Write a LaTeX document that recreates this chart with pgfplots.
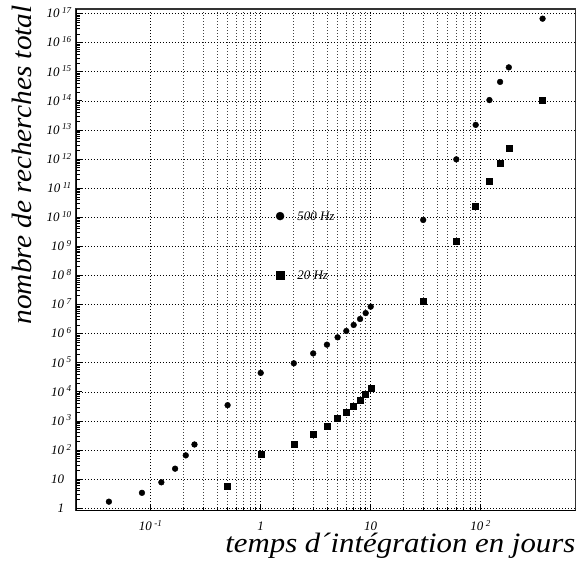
\documentclass[border=0pt]{standalone}
\usepackage{fontspec}
\setmainfont{Liberation Serif}
\newfontfamily\xlabfont[FakeStretch=1.1]{Liberation Serif}
\newfontfamily\ylabfont[FakeStretch=1.05]{Liberation Serif}
\usepackage{pgfplots}
\pgfplotsset{compat=1.18}

% exponent label with a small gap, as on the original
\newcommand\ee[1]{10\hspace{2.5pt}\textsuperscript{#1}}
\newcommand\noexp{\hphantom{\hspace{2.5pt}\textsuperscript{0}}}

\begin{document}
\begin{tikzpicture}
\begin{axis}[
    xmode=log, ymode=log,
    scale only axis,
    width=499.5pt, height=501.7pt,
    xmin=0.02094, xmax=727,
    ymin=0.827, ymax=1.44e17,
    axis line style={black!80, line width=1.1pt},
    xtick={0.1,1,10,100},
    xticklabels={\ee{-1},1,10,\ee{2}},
    ytick={1,10,1e2,1e3,1e4,1e5,1e6,1e7,1e8,1e9,1e10,1e11,1e12,1e13,1e14,1e15,1e16,1e17},
    yticklabels={1\noexp,10\noexp,\ee{2},\ee{3},\ee{4},\ee{5},\ee{6},\ee{7},\ee{8},
      \ee{9},\ee{10},\ee{11},\ee{12},\ee{13},\ee{14},\ee{15},\ee{16},\ee{17}},
    xtick pos=lower, ytick pos=left,
    tick align=inside,
    major tick length=6pt, minor tick length=4pt,
    tick style={black, line width=0.8pt},
    xmajorgrids, xminorgrids, ymajorgrids,
    major grid style={black, line width=0.7pt, dash pattern=on 0.9pt off 2.1pt},
    minor grid style={black!75, line width=0.7pt, dash pattern=on 0.9pt off 2.1pt},
    tick label style={font=\itshape\fontsize{13}{15}\selectfont},
    xticklabel style={anchor=base, inner sep=0pt, text depth=0pt, yshift=-20.3pt},
    yticklabel style={anchor=base east, inner sep=0pt, xshift=-4pt, yshift=-4.3pt},
]
% 500 Hz
\addplot[only marks, mark=*, mark size=2.9pt, black] coordinates {
  (0.0417,1.69) (0.0833,3.4) (0.125,7.8) (0.1667,23) (0.2083,66) (0.25,156)
  (0.5,3500) (1,4.5e4) (2,9.6e4) (3,2.1e5) (4,4.2e5) (5,7.5e5) (6,1.24e6)
  (7,2.0e6) (8,3.2e6) (9,5.1e6) (10,8.5e6) (30,8.1e9) (60,9.8e11)
  (90,1.5e13) (120,1.07e14) (150,4.5e14) (180,1.42e15) (365,6.7e16)
};
% 20 Hz
\addplot[only marks, mark=square*, mark size=3pt, black] coordinates {
  (0.5,5.7) (1,70) (2,158) (3,350) (4,675) (5,1240) (6,1990) (7,3270)
  (8,5300) (9,8300) (10,1.33e4) (30,1.3e7) (60,1.5e9) (90,2.5e10)
  (120,1.7e11) (150,7.2e11) (180,2.3e12) (365,1.07e14)
};
% key drawn inside the plot
\addplot[only marks, mark=*, mark size=4pt, black] coordinates {(1.5,1.1e10)};
\addplot[only marks, mark=square*, mark size=4pt, black] coordinates {(1.5,1.05e8)};
\node[anchor=west, inner sep=0pt, font=\itshape\fontsize{13}{15}\selectfont]
  at (axis cs:2.14,1.1e10) {500 Hz};
\node[anchor=west, inner sep=0pt, font=\itshape\fontsize{13}{15}\selectfont]
  at (axis cs:2.14,1.05e8) {20 Hz};
\draw[black, line width=2.2pt] (rel axis cs:0,1) -- (rel axis cs:0,0) -- (rel axis cs:1,0);
\coordinate (BL) at (rel axis cs:0,0);
\coordinate (TL) at (rel axis cs:0,1);
\coordinate (BR) at (rel axis cs:1,0);
\coordinate (TR) at (rel axis cs:1,1);
\end{axis}
\node[rotate=90, anchor=base east, inner sep=0pt, font=\ylabfont\itshape\fontsize{28}{30}\selectfont]
  at ([xshift=-44.3pt, yshift=4pt]TL) {nombre de recherches total};
\node[anchor=base east, inner sep=0pt, text height=19pt,
  font=\xlabfont\itshape\fontsize{28}{30}\selectfont]
  at ([yshift=-41.3pt]BR) {temps d´intégration en jours};
\pgfresetboundingbox
\path ([xshift=-76pt, yshift=-51.3pt]BL) rectangle ([xshift=2.5pt, yshift=9pt]TR);
\end{tikzpicture}
\end{document}
